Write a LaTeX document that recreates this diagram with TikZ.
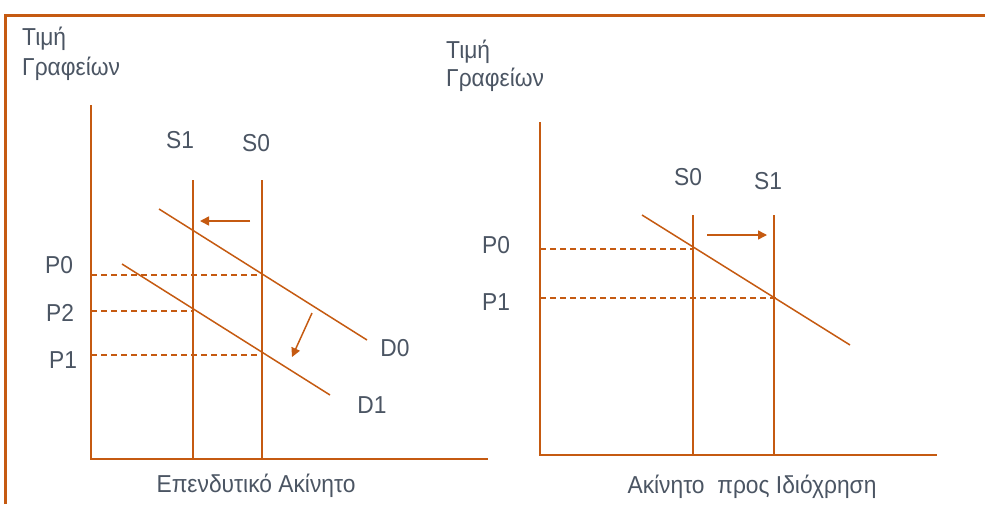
\documentclass[tikz,border=0pt]{standalone}
\usepackage{fontspec}
\setmainfont[FakeStretch=0.93]{Liberation Sans}
\usetikzlibrary{arrows.meta}
\definecolor{org}{HTML}{C55A11}
\definecolor{txt}{RGB}{75,85,99}
\tikzset{
  ln/.style={draw=org, line width=1.5pt},
  dsh/.style={draw=org, line width=1.5pt, dash pattern=on 6pt off 4pt},
  arr/.style={draw=org, line width=1.5pt, -{Triangle[length=9pt,width=9pt]}},
  lbl/.style={text=txt, font=\fontsize{24.5}{28}\selectfont, inner sep=0pt},
}
\begin{document}
\begin{tikzpicture}[x=1pt,y=-1pt]
\useasboundingbox (0,0) rectangle (985,504);
% frame
\draw[draw=org, line width=3pt] (5,504) -- (5,15) -- (985,15);
% ===== left chart =====
\coordinate (LO) at (91,459);
\coordinate (LY) at (91,105);
\coordinate (LX) at (488,459);
\draw[ln] (LY) -- (LO) -- (LX);
\coordinate (s1t) at (193,180); \coordinate (s1b) at (193,459);
\coordinate (s0t) at (262,180); \coordinate (s0b) at (262,459);
\draw[ln] (s1t) -- (s1b);
\draw[ln] (s0t) -- (s0b);
\coordinate (d0a) at (159,209); \coordinate (d0b) at (367,340);
\coordinate (d1a) at (122,264); \coordinate (d1b) at (330,395);
\draw[ln] (d0a) -- (d0b);
\draw[ln] (d1a) -- (d1b);
\coordinate (p0l) at (91,275); \coordinate (p0r) at (262,275);
\coordinate (p2l) at (91,311); \coordinate (p2r) at (193,311);
\coordinate (p1l) at (91,355); \coordinate (p1r) at (262,355);
\draw[dsh] (p0l) -- (p0r);
\draw[dsh] (p2l) -- (p2r);
\draw[dsh] (p1l) -- (p1r);
\coordinate (a1s) at (250,221); \coordinate (a1e) at (200,221);
\coordinate (a2s) at (312,313); \coordinate (a2e) at (292,357);
\draw[arr] (a1s) -- (a1e);
\draw[arr] (a2s) -- (a2e);
\node[lbl, anchor=base west] (lt1) at (22,45) {Τιμή};
\node[lbl, anchor=base west] (lt2) at (22,75) {Γραφείων};
\node[lbl] (ls1) at (180,140) {S1};
\node[lbl] (ls0) at (256,143) {S0};
\node[lbl] (lp0) at (59,265) {P0};
\node[lbl] (lp2) at (60,313) {P2};
\node[lbl] (lp1) at (63,360) {P1};
\node[lbl] (ld0) at (395,348) {D0};
\node[lbl] (ld1) at (372,405) {D1};
\node[lbl, anchor=base] (lxa) at (256,492) {Επενδυτικό Ακίνητο};
% ===== right chart =====
\coordinate (RO) at (540,455);
\coordinate (RY) at (540,122);
\coordinate (RX) at (937,455);
\draw[ln] (RY) -- (RO) -- (RX);
\coordinate (r0t) at (693,215); \coordinate (r0b) at (693,455);
\coordinate (r1t) at (774,215); \coordinate (r1b) at (774,455);
\draw[ln] (r0t) -- (r0b);
\draw[ln] (r1t) -- (r1b);
\coordinate (rda) at (642,215); \coordinate (rdb) at (850,345);
\draw[ln] (rda) -- (rdb);
\coordinate (rp0l) at (540,249); \coordinate (rp0r) at (693,249);
\coordinate (rp1l) at (540,298); \coordinate (rp1r) at (778,298);
\draw[dsh] (rp0l) -- (rp0r);
\draw[dsh] (rp1l) -- (rp1r);
\coordinate (a3s) at (707,235); \coordinate (a3e) at (767,235);
\draw[arr] (a3s) -- (a3e);
\node[lbl, anchor=base west] (rt1) at (446,58) {Τιμή};
\node[lbl, anchor=base west] (rt2) at (446,86) {Γραφείων};
\node[lbl] (rs0) at (688,177) {S0};
\node[lbl] (rs1) at (768,181) {S1};
\node[lbl] (rp0) at (496,245) {P0};
\node[lbl] (rp1) at (496,302) {P1};
\node[lbl, anchor=base] (rxa) at (752,493) {Ακίνητο\ \ προς Ιδιόχρηση};
\end{tikzpicture}
\end{document}
